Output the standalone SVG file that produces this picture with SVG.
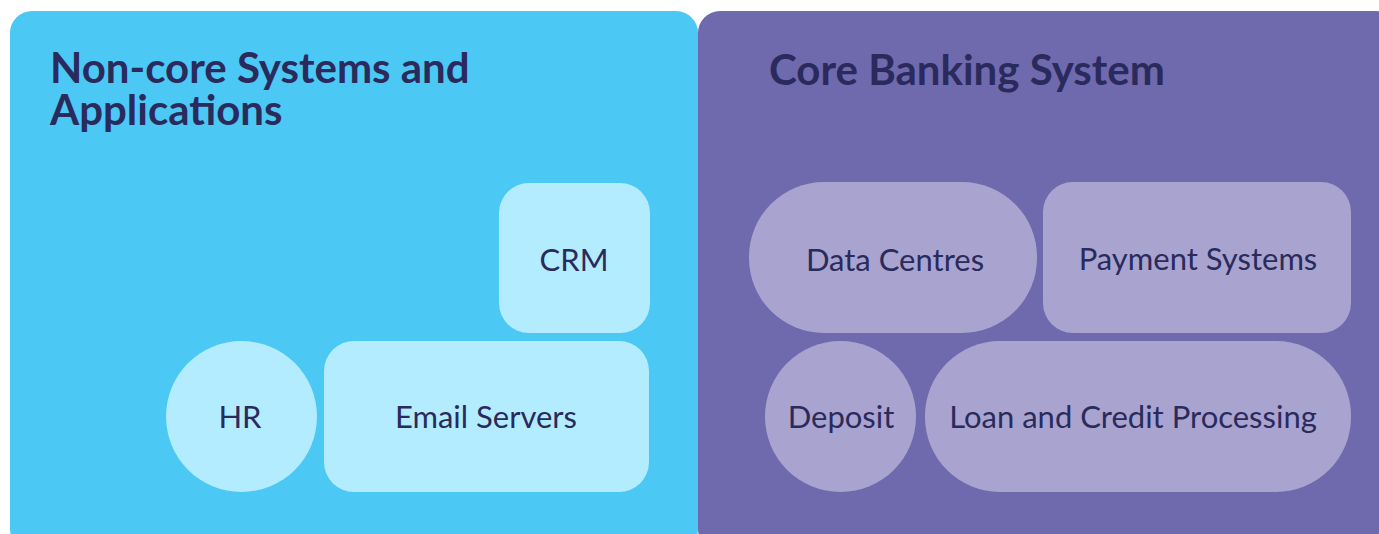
<svg xmlns="http://www.w3.org/2000/svg" width="1379" height="534" viewBox="0 0 1379 534">
  <style>
    .title { font-family: Lato, "Liberation Sans", sans-serif; font-weight: 700; font-size: 42px; fill: #2a2a5c; }
    .label { font-family: Lato, "Liberation Sans", sans-serif; font-weight: 400; font-size: 31px; fill: #2a2a5c; text-anchor: middle; dominant-baseline: central; }
    .noncore { fill: #b3ecfe; }
    .core { fill: #a9a4cf; }
  </style>
  <rect width="1379" height="534" fill="#ffffff"/>

  <!-- Non-core panel -->
  <g id="panel-noncore">
    <rect x="10" y="11" width="688" height="540" rx="22" fill="#4bc8f4"/>
    <text class="title" x="50" y="83">Non-core Systems and<tspan x="50" dy="42">Applications</tspan></text>
  </g>

  <!-- Core banking panel -->
  <g id="panel-core">
    <rect x="698" y="11" width="700" height="540" rx="22" fill="#6f69ae"/>
    <text class="title" x="769" y="85">Core Banking System</text>
  </g>

  <g id="node-crm">
    <rect class="noncore" x="499" y="183" width="151" height="150" rx="30"/>
    <text class="label" x="574" y="259">CRM</text>
  </g>
  <g id="node-hr">
    <circle class="noncore" cx="241.5" cy="416.5" r="75.5"/>
    <text class="label" x="240" y="416">HR</text>
  </g>
  <g id="node-email">
    <rect class="noncore" x="324" y="341" width="325" height="151" rx="30"/>
    <text class="label" x="486" y="416">Email Servers</text>
  </g>

  <g id="node-datacentres">
    <rect class="core" x="749" y="182" width="288" height="151" rx="75"/>
    <text class="label" x="895" y="259">Data Centres</text>
  </g>
  <g id="node-payment">
    <rect class="core" x="1043" y="182" width="308" height="151" rx="30"/>
    <text class="label" x="1198" y="258">Payment Systems</text>
  </g>
  <g id="node-deposit">
    <circle class="core" cx="840.5" cy="416.5" r="75.5"/>
    <text class="label" x="841" y="416">Deposit</text>
  </g>
  <g id="node-loan">
    <rect class="core" x="925" y="341" width="426" height="151" rx="75"/>
    <text class="label" x="1133" y="416">Loan and Credit Processing</text>
  </g>

  <g id="connectors"/>
</svg>
